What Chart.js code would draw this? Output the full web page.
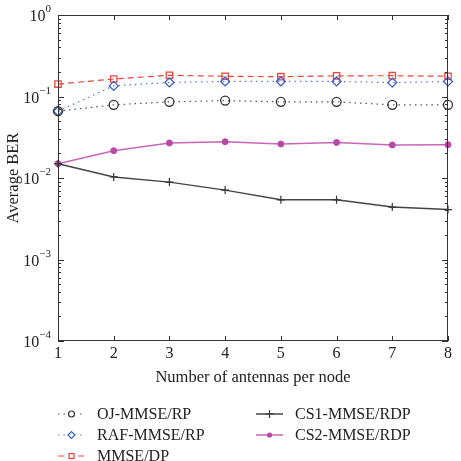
<!DOCTYPE html>
<html>
<head>
<meta charset="utf-8">
<script src="https://cdn.jsdelivr.net/npm/chart.js@4/dist/chart.umd.min.js"></script>
<style>
  html, body { margin: 0; padding: 0; background: #fff; }
  #wrap { width: 461px; height: 461px; }
</style>
</head>
<body>
<div id="wrap"><canvas id="berChart" width="461" height="461"></canvas></div>
<script>
  // antennas per node
  const antennas = [1, 2, 3, 4, 5, 6, 7, 8];
  const ojMmse   = [0.066, 0.079, 0.086, 0.089, 0.086, 0.086, 0.079, 0.079];
  const rafMmse  = [0.066, 0.135, 0.149, 0.153, 0.153, 0.153, 0.148, 0.153];
  const mmseDp   = [0.142, 0.164, 0.182, 0.177, 0.175, 0.179, 0.180, 0.177];
  const cs1Mmse  = [0.015, 0.0103, 0.0089, 0.0071, 0.0054, 0.0054, 0.0044, 0.0041];
  const cs2Mmse  = [0.015, 0.0216, 0.0269, 0.0279, 0.0261, 0.0273, 0.0254, 0.0256];
  const decadeTicks = [1e-4, 1e-3, 1e-2, 1e-1, 1];
  const decadeExps = ['−4', '−3', '−2', '−1', '0'];

  const serif = '"Liberation Serif", "DejaVu Serif", serif';

  function pts(ys) {
    return antennas.map((x, i) => ({ x: x, y: ys[i] }));
  }

  // legend layout: [column, row]
  const legendSlots = [[0, 0], [0, 1], [0, 2], [1, 0], [1, 1]];

  const axisDecor = {
    id: 'axisDecor',
    afterDraw(chart) {
      const c = chart.ctx;
      const a = chart.chartArea;
      const xs = chart.scales.x;
      const ys = chart.scales.y;
      c.save();
      c.strokeStyle = '#333';
      c.lineWidth = 1;
      c.strokeRect(a.left + 0.5, a.top + 0.5, a.right - a.left - 1, a.bottom - a.top - 1);

      // x ticks
      c.beginPath();
      antennas.forEach(v => {
        const px = Math.round(xs.getPixelForValue(v)) + 0.5;
        c.moveTo(px, a.bottom); c.lineTo(px, a.bottom - 5);
        c.moveTo(px, a.top); c.lineTo(px, a.top + 5);
      });
      // y ticks, major + minor
      decadeTicks.forEach((d, i) => {
        const py = Math.round(ys.getPixelForValue(d)) + 0.5;
        c.moveTo(a.left, py); c.lineTo(a.left + 6, py);
        c.moveTo(a.right, py); c.lineTo(a.right - 6, py);
        if (i < decadeTicks.length - 1) {
          for (let m = 2; m <= 9; m++) {
            const my = Math.round(ys.getPixelForValue(d * m)) + 0.5;
            c.moveTo(a.left, my); c.lineTo(a.left + 3, my);
            c.moveTo(a.right, my); c.lineTo(a.right - 3, my);
          }
        }
      });
      c.stroke();

      // x tick labels
      c.fillStyle = '#222';
      c.font = '16px ' + serif;
      c.textAlign = 'center';
      c.textBaseline = 'top';
      antennas.forEach(v => {
        c.fillText(String(v), xs.getPixelForValue(v), a.bottom + 5);
      });

      // y tick labels 10^n
      decadeTicks.forEach((d, i) => {
        const py = ys.getPixelForValue(d);
        c.font = '11px ' + serif;
        const ew = c.measureText(decadeExps[i]).width;
        c.textAlign = 'left';
        c.textBaseline = 'alphabetic';
        const right = a.left - 7;
        c.fillText(decadeExps[i], right - ew, py - 3);
        c.font = '16px ' + serif;
        c.textAlign = 'right';
        c.fillText('10', right - ew, py + 6);
      });

      // axis titles
      c.font = '16.5px ' + serif;
      c.textAlign = 'center';
      c.textBaseline = 'middle';
      c.fillText('Number of antennas per node', (a.left + a.right) / 2, 378);
      c.save();
      c.translate(14, (a.top + a.bottom) / 2);
      c.rotate(-Math.PI / 2);
      c.fillText('Average BER', 0, 0);
      c.restore();

      // legend
      chart.data.datasets.forEach((ds, i) => {
        const col = legendSlots[i][0];
        const row = legendSlots[i][1];
        const x0 = col === 0 ? 58 : 256;
        const y = 414 + row * 21;
        c.save();
        c.strokeStyle = ds.borderColor;
        c.lineWidth = ds.borderWidth;
        c.setLineDash(ds.borderDash || []);
        c.beginPath();
        c.moveTo(x0, y); c.lineTo(x0 + 27, y);
        c.stroke();
        c.setLineDash([]);
        if (ds.borderDash) {
          c.fillStyle = '#fff';
          c.fillRect(x0 + 8, y - 5, 11, 10);
        }
        c.strokeStyle = ds.pointBorderColor;
        c.fillStyle = ds.legendFill;
        c.lineWidth = 1.2;
        Chart.helpers.drawPoint(c, {
          pointStyle: ds.pointStyle,
          radius: ds.legendRadius,
          borderWidth: 1.2,
          rotation: 0
        }, x0 + 13.5, y);
        c.restore();
        c.fillStyle = '#222';
        c.font = '16px ' + serif;
        c.textAlign = 'left';
        c.textBaseline = 'middle';
        c.fillText(ds.label, x0 + 39, y + 1);
      });
      c.restore();
    }
  };

  const ctx = document.getElementById('berChart').getContext('2d');
  const chart = new Chart(ctx, {
    type: 'line',
    data: {
      datasets: [{
        label: 'OJ-MMSE/RP',
        data: pts(ojMmse),
        borderColor: '#555',
        borderWidth: 1.2,
        borderDash: [1.5, 4],
        pointStyle: 'circle',
        pointRadius: 4.5,
        legendRadius: 3,
        legendFill: '#fff',
        pointBorderColor: '#333',
        pointBackgroundColor: 'rgba(255,255,255,0)',
        pointBorderWidth: 1.3,
        clip: false
      }, {
        label: 'RAF-MMSE/RP',
        data: pts(rafMmse),
        borderColor: '#5577cc',
        borderWidth: 1.2,
        borderDash: [1.5, 4],
        pointStyle: 'rectRot',
        pointRadius: 4.5,
        legendRadius: 3.5,
        legendFill: '#fff',
        pointBorderColor: '#3a5fc8',
        pointBackgroundColor: 'rgba(255,255,255,0)',
        pointBorderWidth: 1.3,
        clip: false
      }, {
        label: 'MMSE/DP',
        data: pts(mmseDp),
        borderColor: '#e8483c',
        borderWidth: 1.2,
        borderDash: [6, 4],
        pointStyle: 'rect',
        pointRadius: 4.5,
        legendRadius: 3.5,
        legendFill: '#fff',
        pointBorderColor: '#e8483c',
        pointBackgroundColor: 'rgba(255,255,255,0)',
        pointBorderWidth: 1.3,
        clip: false
      }, {
        label: 'CS1-MMSE/RDP',
        data: pts(cs1Mmse),
        borderColor: '#444',
        borderWidth: 1.5,
        pointStyle: 'cross',
        pointRadius: 4,
        legendRadius: 4,
        legendFill: '#333',
        pointBorderColor: '#333',
        pointBackgroundColor: '#333',
        pointBorderWidth: 1.2,
        clip: false
      }, {
        label: 'CS2-MMSE/RDP',
        data: pts(cs2Mmse),
        borderColor: '#c866b8',
        borderWidth: 1.5,
        pointStyle: 'circle',
        pointRadius: 3,
        legendRadius: 2,
        legendFill: '#b848a8',
        pointBorderColor: '#b848a8',
        pointBackgroundColor: '#b848a8',
        pointBorderWidth: 1,
        clip: false
      }]
    },
    options: {
      responsive: false,
      animation: false,
      layout: { padding: { left: 58, right: 13, top: 15, bottom: 120 } },
      scales: {
        x: { type: 'linear', min: 1, max: 8, display: false },
        y: { type: 'logarithmic', min: 1e-4, max: 1, display: false }
      },
      plugins: {
        legend: { display: false },
        tooltip: { enabled: false }
      },
      elements: { line: { tension: 0 } }
    },
    plugins: [axisDecor]
  });
</script>
</body>
</html>
